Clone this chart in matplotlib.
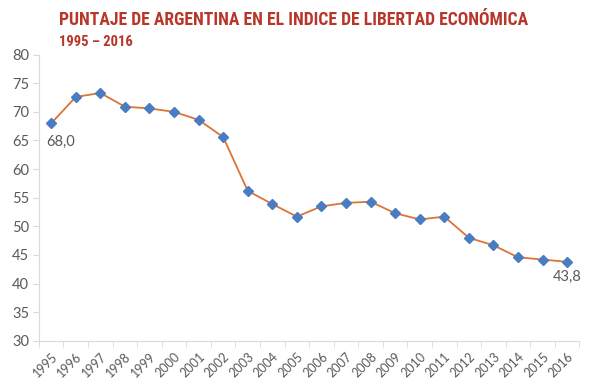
import matplotlib
matplotlib.use("Agg")
import matplotlib.pyplot as plt
import numpy as np

years = [str(y) for y in range(1995, 2017)]
scores = [68.0, 72.6, 73.3, 70.9, 70.6, 70.0, 68.6, 65.6, 56.2, 53.9, 51.7,
          53.5, 54.1, 54.3, 52.3, 51.2, 51.7, 48.0, 46.7, 44.6, 44.2, 43.8]
yticks = list(range(30, 81, 5))

title = "PUNTAJE DE ARGENTINA EN EL INDICE DE LIBERTAD ECONÓMICA"
subtitle = "1995 – 2016"

red = "#B8352A"
gray = "#595959"
axc = "#D9D9D9"
lfont = ["Lato", "DejaVu Sans"]

fig = plt.figure(figsize=(6.08, 3.90), dpi=100)
ax = fig.add_axes([0.064, 0.126, 0.889, 0.734])

x = np.arange(len(years))
ax.plot(x, scores, color="#DB7436", lw=1.3, zorder=2)
ax.plot(x, scores, ls="none", marker="D", ms=5.5, color="#4A7CC2", zorder=3)

ax.set_xlim(-0.5, len(years) - 0.5)
ax.set_ylim(30, 80)
ax.set_yticks(yticks)
ax.set_yticklabels([str(v) for v in yticks], family=lfont)
ax.set_xticks(x)
ax.set_xticklabels(years, rotation=45, ha="right", rotation_mode="anchor", family=lfont)
ax.set_xticks(np.arange(-0.5, len(years)), minor=True)
ax.tick_params(axis="x", which="major", length=0, pad=7, labelsize=9, labelcolor=gray)
ax.tick_params(axis="x", which="minor", length=4, color=axc, direction="out")
ax.tick_params(axis="y", length=4, color=axc, labelsize=10.5, labelcolor=gray, pad=3)

for s in ["top", "right"]:
    ax.spines[s].set_visible(False)
ax.spines["left"].set_color(axc)
ax.spines["bottom"].set_color(axc)

ax.annotate("68,0", (x[0], scores[0]), xytext=(6.5, -8), textcoords="offset points",
            ha="center", va="top", fontsize=10.5, color=gray, family=lfont)
ax.annotate("43,8", (x[-1], scores[-1]), xytext=(0, -6), textcoords="offset points",
            ha="center", va="top", fontsize=10.5, color=gray, family=lfont)

tfont = ["Roboto Condensed", "DejaVu Sans"]
fig.text(59 / 608, 1 - 25 / 390, title, fontsize=12.7, fontweight="bold", color=red,
         family=tfont, va="baseline")
fig.text(59 / 608, 1 - 45.7 / 390, subtitle, fontsize=10.5, fontweight="bold", color=red,
         family=tfont, va="baseline")

fig.savefig("out.png", dpi=100)
